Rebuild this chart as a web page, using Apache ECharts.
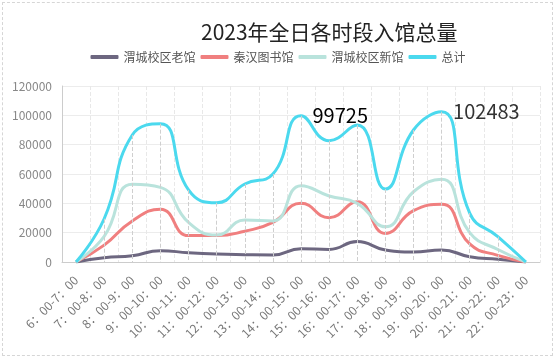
<!DOCTYPE html>
<html>
<head>
<meta charset="utf-8">
<script src="https://cdn.jsdelivr.net/npm/echarts@6/dist/echarts.min.js"></script>
<style>
html,body{margin:0;padding:0;background:#fff;}
#chart{width:556px;height:362px;}
#frame{position:absolute;left:2px;top:2px;width:549px;height:352px;border:1px dashed #d6d6d6;pointer-events:none;}
</style>
</head>
<body>
<div id="chart"></div>
<div id="frame"></div>
<script>
const categories = ['6：00-7：00','7：00-8：00','8：00-9：00','9：00-10：00','10：00-11：00','11：00-12：00','12：00-13：00','13：00-14：00','14：00-15：00','15：00-16：00','16：00-17：00','17：00-18：00','18：00-19：00','19：00-20：00','20：00-21：00','21：00-22：00','22：00-23：00'];
const seriesNames = ['渭城校区老馆','秦汉图书馆','渭城校区新馆','总计'];
const oldCampus = [0, 2900, 4300, 7700, 6300, 5400, 5000, 4800, 9100, 8600, 13900, 8200, 6800, 8200, 3600, 1800, 0];
const qinhan = [0, 11500, 28000, 36000, 18000, 18000, 21000, 27000, 40000, 30200, 41000, 19500, 35000, 39300, 12300, 4500, 0];
const newCampus = [0, 17500, 53000, 50900, 27000, 18400, 28600, 28000, 52000, 45000, 40000, 24000, 47900, 56500, 20000, 8500, 0];
const total = [0, 29500, 86600, 94300, 49100, 40400, 53200, 60000, 99725, 82700, 93400, 49800, 90000, 102483, 33400, 17300, 0];
const labeledIdx = [8, 13];
const titleText = '2023年全日各时段入馆总量';
const colors = ['#6d6780', '#f07f7f', '#b9e3dc', '#4bd9ee'];

const chart = echarts.init(document.getElementById('chart'), null, {renderer: 'canvas'});
const font = '"Microsoft YaHei","Noto Sans CJK SC",sans-serif';

const mkLine = (name, data, color) => ({
  name, type: 'line', smooth: true, symbol: 'none', data,
  lineStyle: {width: 3, color}, itemStyle: {color},
  emphasis: {disabled: true}
});

const drop = total.map((v, i) => [{coord: [categories[i], v]}, {coord: [categories[i], 0]}]);

const totalSeries = mkLine(seriesNames[3], total, colors[3]);
totalSeries.markLine = {
  silent: true, symbol: ['none', 'none'], animation: false,
  label: {show: false},
  lineStyle: {color: '#cfcfcf', type: 'dashed', width: 1},
  emphasis: {disabled: true},
  data: drop
};
totalSeries.markPoint = {
  silent: true, animation: false, symbol: 'circle', symbolSize: 1,
  itemStyle: {color: 'rgba(0,0,0,0)'},
  data: labeledIdx.map((i, k) => ({
    coord: [categories[i], total[i]], value: total[i],
    label: {show: true, position: 'right', distance: 11, fontSize: 20,
      color: k === 0 ? '#000' : '#333', fontFamily: font, formatter: '{c}'}
  }))
};
totalSeries.z = 3;

chart.setOption({
  animation: false,
  textStyle: {fontFamily: font},
  title: {
    text: titleText, left: 196, top: 17,
    textStyle: {fontSize: 21, fontWeight: 'normal', color: '#222', fontFamily: font}
  },
  legend: {
    top: 46, left: 'center', itemWidth: 28, itemHeight: 4, itemGap: 5,
    icon: 'roundRect',
    data: seriesNames,
    textStyle: {fontSize: 12, color: '#555', fontFamily: font}
  },
  color: colors,
  grid: {left: 62, right: 16, top: 86, bottom: 100},
  xAxis: {
    type: 'category', data: categories, boundaryGap: true,
    axisLine: {lineStyle: {color: '#ccc'}},
    axisTick: {show: false},
    axisLabel: {interval: 0, rotate: 45, margin: 16, fontSize: 12, color: '#777', fontFamily: font},
    splitLine: {show: true, interval: 0, lineStyle: {color: '#e8e8e8', type: 'dashed'}}
  },
  yAxis: {
    type: 'value', min: 0, max: 120000, interval: 20000,
    axisLine: {show: true, lineStyle: {color: '#ccc'}},
    axisTick: {show: false},
    axisLabel: {fontSize: 12, color: '#888', margin: 10, fontFamily: font, formatter: v => String(v)},
    splitLine: {lineStyle: {color: '#ececec'}}
  },
  series: [
    mkLine(seriesNames[0], oldCampus, colors[0]),
    mkLine(seriesNames[1], qinhan, colors[1]),
    mkLine(seriesNames[2], newCampus, colors[2]),
    totalSeries
  ]
});
</script>
</body>
</html>
